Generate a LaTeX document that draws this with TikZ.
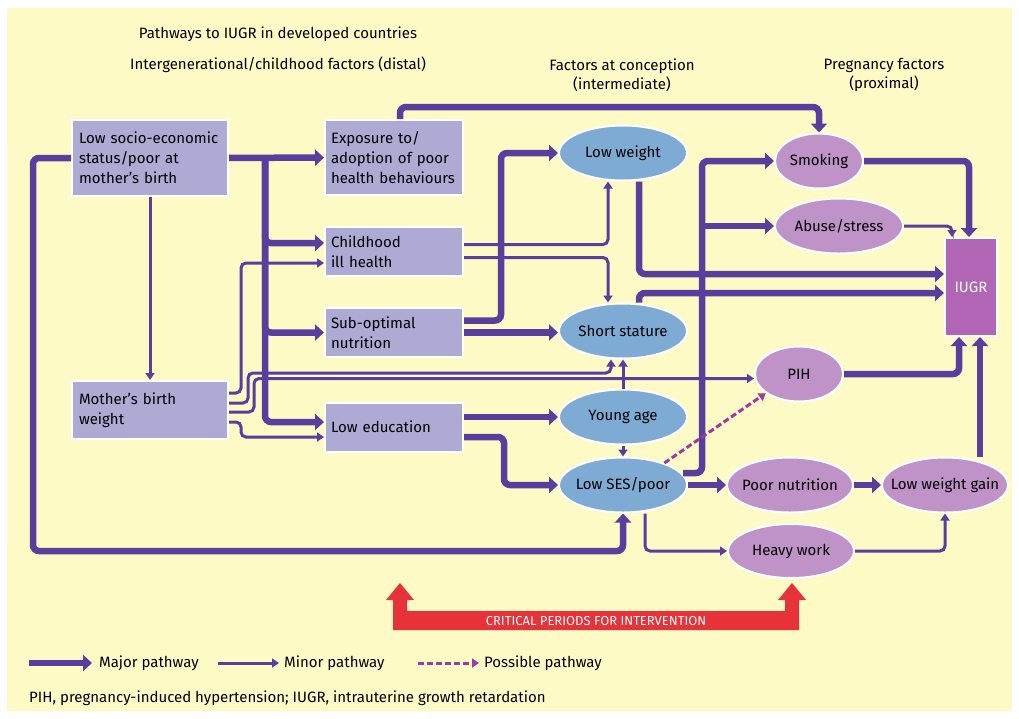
\documentclass[tikz,border=0pt]{standalone}
\usepackage{fontspec}
\setmainfont{Fira Sans}
\usepackage{tikz}
\usetikzlibrary{arrows.meta,shapes,positioning}

\definecolor{bgyellow}{HTML}{FEFAC6}
\definecolor{boxlilac}{HTML}{ADAAD4}
\definecolor{ovalblue}{HTML}{7EABD4}
\definecolor{ovalpink}{HTML}{BF92C8}
\definecolor{iugrpink}{HTML}{B066B4}
\definecolor{pathpurple}{HTML}{5A3E9E}
\definecolor{dashpurple}{HTML}{9A3AA5}
\definecolor{critred}{HTML}{E8323A}

\begin{document}
\begin{tikzpicture}[x=1pt,y=-1pt,
    heading/.style={font=\fontsize{15}{19}\selectfont, inner sep=0pt},
    distalbox/.style={rectangle, fill=boxlilac, draw=white, line width=2pt, minimum width=138pt, minimum height=49pt, text width=126pt, inner xsep=6pt, inner ysep=0pt, align=left, font=\fontsize{15}{20}\selectfont},
    concoval/.style={ellipse, fill=ovalblue, draw=white, line width=2pt, minimum width=128pt, minimum height=55pt, inner sep=0pt, font=\fontsize{15}{20}\selectfont, execute at begin node={\hbox to 0pt\bgroup\hss}, execute at end node={\hss\egroup}},
    pregoval/.style={concoval, fill=ovalpink},
    major/.style={draw=pathpurple, line width=6.5pt, -{Triangle[length=9pt,width=16pt]}, rounded corners=6pt},
    minor/.style={draw=pathpurple, line width=3pt, -{Triangle[length=7pt,width=9pt]}, rounded corners=5pt},
    possible/.style={draw=dashpurple, line width=3pt, dash pattern=on 6pt off 3pt, -{Triangle[length=7pt,width=9pt]}},
    legendtxt/.style={font=\fontsize{15}{17}\selectfont, inner sep=2pt, anchor=west},
    ]
        \useasboundingbox (0,0) rectangle (1019,718);
        \fill[bgyellow] (7,8) rectangle (1012,711);

        \node[heading] (title) at (278,34) {Pathways to IUGR in developed countries};
        \node[heading, below of=title, node distance=31pt] (distal) {Intergenerational/childhood factors (distal)};
        \node[heading, align=center] (conception) at (622,75) {Factors at conception\\(intermediate)};
        \node[heading, align=center] (proximal) at (884,75) {Pregnancy factors\\(proximal)};

        \node[distalbox, minimum width=156pt, text width=142pt, inner xsep=7pt, minimum height=76pt] (lowses) at (150,158) {Low socio-economic\\status/poor at\\mother's birth};
        \node[distalbox, minimum width=156pt, text width=142pt, inner xsep=7pt, minimum height=58pt] (mother) at (150,410) {Mother's birth\\weight};
        \node[distalbox, minimum height=75pt] (expo) at (394,157.5) {Exposure to/\\adoption of poor\\health behaviours};
        \node[distalbox] (child) at (394,251.5) {Childhood\\ill health};
        \node[distalbox] (subopt) at (394,332.5) {Sub-optimal\\nutrition};
        \node[distalbox] (lowedu) at (394,427) {Low education};

        \node[concoval] (lowwt) at (623,153) {Low weight};
        \node[concoval] (shortst) at (623,331) {Short stature};
        \node[concoval] (youngage) at (623,417) {Young age};
        \node[concoval] (lowsesp) at (623,485) {Low SES/poor};

        \node[pregoval, minimum width=88pt] (smoking) at (819,161) {Smoking};
        \node[pregoval] (abuse) at (839,226) {Abuse/stress};
        \node[pregoval, minimum width=88pt] (pih) at (799,374) {PIH};
        \node[pregoval, minimum width=126pt] (poornut) at (790,485) {Poor nutrition};
        \node[pregoval, minimum width=126pt] (lwgain) at (945,485) {Low weight gain};
        \node[pregoval, minimum width=126pt, minimum height=54pt] (heavy) at (791,551) {Heavy work};
        \node[rectangle, fill=iugrpink, draw=white, line width=2pt, minimum width=52pt, minimum height=98pt, inner sep=0pt, text=white, font=\fontsize{15}{20}\selectfont] (iugr) at (971,287) {IUGR};

        \coordinate (trunk) at (265,158);
        \coordinate (loopcorner) at (33,551);
        \coordinate (sesbend) at (702,473);

        \draw[major] (lowses) -- (expo);
        \draw[major] (trunk) |- ([yshift=8.5pt]child.west);
        \draw[major] (trunk) |- (subopt.west);
        \draw[major] (trunk) |- ([yshift=5pt]lowedu.west);
        \draw[minor] (lowses) -- (mother);
        \draw[major] (lowses.west) -| (loopcorner) -| (lowsesp.south);

        \draw[minor] ([yshift=17pt]mother.east) -- ++(12,0) |- ([yshift=-11.5pt]child.west);
        \draw[minor] ([yshift=7pt]mother.east) -- ++(19,0) -- ++(0,-30) -| ([xshift=-12pt]shortst.south);
        \draw[minor] ([yshift=-2pt]mother.east) -- ++(25,0) |- ([yshift=-4.5pt]pih.west);
        \draw[minor] ([yshift=-12pt]mother.east) -- ++(12,0) |- ([yshift=-10pt]lowedu.west);

        \draw[major] ([xshift=6pt]expo.north) -- ++(0,-12) -| (smoking.north);
        \draw[minor] ([yshift=7pt]child.east) -| ([xshift=-15pt]lowwt.south);
        \draw[minor] ([yshift=-6pt]child.east) -| ([xshift=-15pt]shortst.north);
        \draw[major] ([yshift=12pt]subopt.east) -- ++(37,0) |- (lowwt.west);
        \draw[major] (subopt.east) -- (subopt.east -| shortst.west);
        \draw[major] ([yshift=10pt]lowedu.east) -- (youngage.west);
        \draw[major] ([yshift=-10pt]lowedu.east) -- ++(40,0) |- (lowsesp.west);

        \draw[minor] (youngage) -- (shortst);
        \draw[minor] (youngage) -- (lowsesp);
        \draw[major] ([xshift=16pt]lowwt.south) |- ([yshift=13pt]iugr.west);
        \draw[major] ([xshift=16pt]shortst.north) |- ([yshift=-6pt]iugr.west);

        \draw[major] ([xshift=-5pt,yshift=12pt]lowsesp.east) -- (sesbend) |- (smoking.west);
        \draw[major] (sesbend |- abuse.west) -- (abuse.west);
        \draw[possible] (lowsesp.28) -- (pih.210);
        \draw[major] (lowsesp) -- (poornut);
        \draw[minor] ([xshift=22pt]lowsesp.south) |- (heavy.west);
        \draw[major] (poornut) -- (lwgain);
        \draw[minor] (heavy.east) -| (lwgain.south);
        \draw[major] ([xshift=35pt]lwgain.north) -- ([xshift=9pt]iugr.south);
        \draw[major] (pih.east) -| ([xshift=-12pt]iugr.south);
        \draw[major] (smoking.east) -| ([xshift=-2pt]iugr.north);
        \draw[minor] (abuse.east) -| ([xshift=-19pt]iugr.north);

        \fill[critred] (393,630) -- (393,600) -- (386,600) -- (400,583) -- (414,600) -- (407,600) -- (407,611)
            -- (785,611) -- (785,600) -- (778,600) -- (792,583) -- (806,600) -- (799,600) -- (799,630) -- cycle;
        \node[font=\fontsize{13}{15}\selectfont, text=white, inner sep=0pt] (critical) at (596,621) {CRITICAL PERIODS FOR INTERVENTION};

        \coordinate (majorstart) at (29,663);
        \coordinate (minorstart) at (218,663);
        \coordinate (possiblestart) at (418,663);
        \node[legendtxt] (majorlbl) at (97,663) {Major pathway};
        \node[legendtxt] (minorlbl) at (282,663) {Minor pathway};
        \node[legendtxt] (possiblelbl) at (482,663) {Possible pathway};
        \draw[major, shorten >=5pt] (majorstart) -- (majorlbl.west);
        \draw[minor, shorten >=3pt] (minorstart) -- (minorlbl.west);
        \draw[possible, shorten >=3pt] (possiblestart) -- (possiblelbl.west);
        \node[legendtxt] (footnote) at (27,698) {PIH, pregnancy-induced hypertension; IUGR, intrauterine growth retardation};
    \end{tikzpicture}
\end{document}
